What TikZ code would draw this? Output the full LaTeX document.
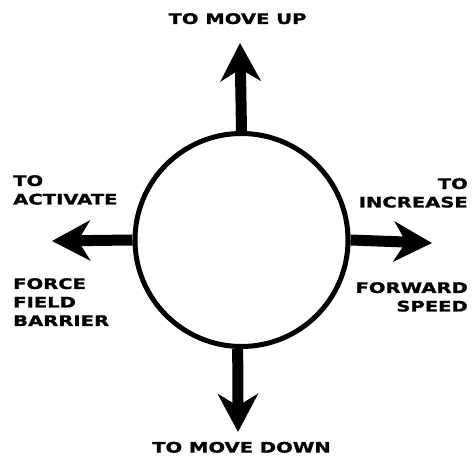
\documentclass[tikz,border=0pt]{standalone}
\usepackage{fontspec}
\newfontfamily\panelfont[FakeStretch=1.35,FakeBold=1.2]{DejaVu Sans}
\usetikzlibrary{positioning,arrows.meta}

\begin{document}
\begin{tikzpicture}[x=1pt,y=1pt,>={Stealth[length=38pt,width=40pt,inset=12pt]},
  cmd/.style={font=\panelfont\bfseries\fontsize{14.5}{18.5}\selectfont,inner sep=0pt}]
\useasboundingbox (0,0) rectangle (474,457);
\node[circle,draw,line width=5pt,minimum size=213pt,inner sep=0pt] (ring) at (241.5,217) {};
\coordinate (uptip) at (240,414);
\coordinate (downtip) at (238,25);
\coordinate (lefttip) at (52,216);
\coordinate (righttip) at (432,214);
\draw[->,line width=11pt] (ring.north) -- (uptip);
\draw[->,line width=11pt] (ring.268) -- (downtip);
\draw[->,line width=11pt] (ring.west) -- (lefttip);
\draw[->,line width=11pt] (ring.east) -- (righttip);
\node[cmd,anchor=north] (up) at (237.5,444) {TO MOVE UP};
\node[cmd,anchor=south] (down) at (241.5,4) {TO MOVE DOWN};
\node[cmd,anchor=north west,align=left] (activate) at (13,282) {TO\\ACTIVATE};
\node[cmd,anchor=north west,align=left] (barrier) at (13,179) {FORCE\\FIELD\\BARRIER};
\node[cmd,anchor=north east,align=right] (increase) at (468,279) {TO\\INCREASE};
\node[cmd,anchor=north east,align=right] (speed) at (468,175) {FORWARD\\SPEED};
\end{tikzpicture}
\end{document}
